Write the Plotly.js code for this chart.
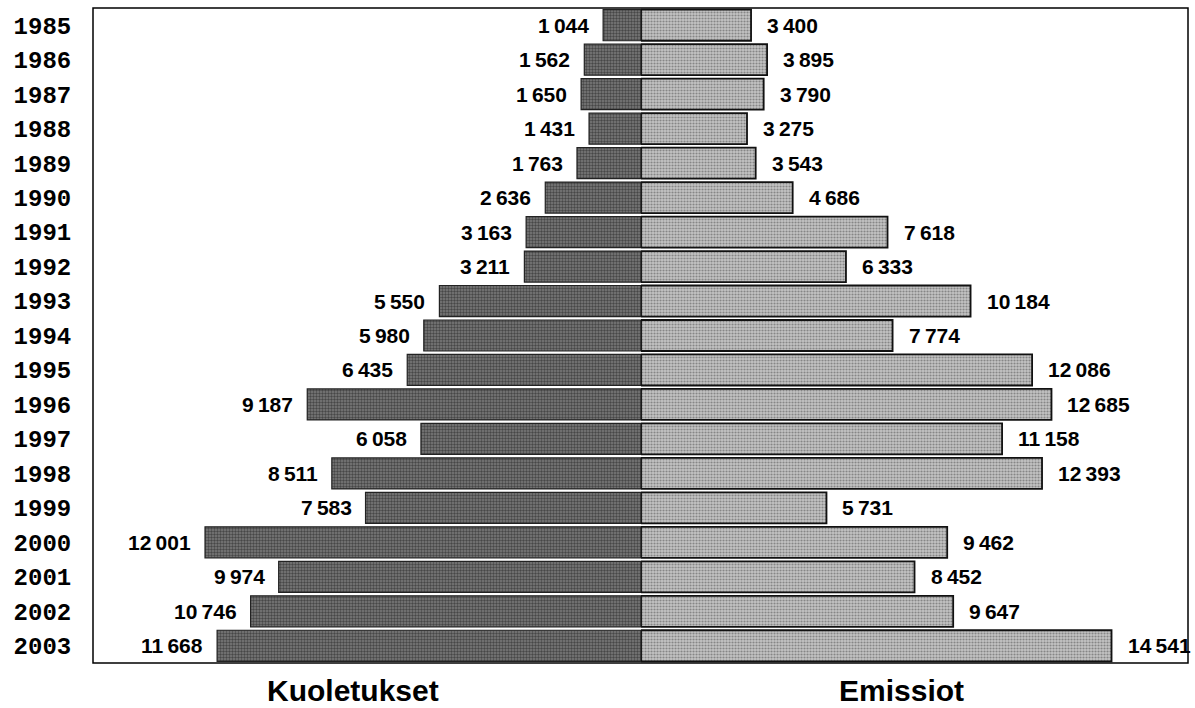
<!DOCTYPE html>
<html>
<head>
<meta charset="utf-8">
<script src="https://cdn.plot.ly/plotly-3.0.1.min.js"></script>
<style>html,body{margin:0;padding:0;background:#fff;}#chart{width:1195px;height:708px;}</style>
</head>
<body>
<div id="chart"></div>
<script>
const years = ['1985','1986','1987','1988','1989','1990','1991','1992','1993','1994','1995','1996','1997','1998','1999','2000','2001','2002','2003'];
const kuoletukset = [1044,1562,1650,1431,1763,2636,3163,3211,5550,5980,6435,9187,6058,8511,7583,12001,9974,10746,11668];
const emissiot = [3400,3895,3790,3275,3543,4686,7618,6333,10184,7774,12086,12685,11158,12393,5731,9462,8452,9647,14541];
const leftTitle = 'Kuoletukset';
const rightTitle = 'Emissiot';

function fmt(v){ return String(v).replace(/\B(?=(\d{3})+(?!\d))/g, '\u2009'); }

const traces = [
  {type:'bar', orientation:'h', y:years, x:kuoletukset, xaxis:'x', yaxis:'y',
   marker:{color:'#5e5e5e', line:{color:'#222', width:1.2},
     pattern:{shape:'.', size:3, solidity:0.5, fgcolor:'#111', bgcolor:'#7c7c7c', fillmode:'overlay'}},
   hoverinfo:'skip'},
  {type:'bar', orientation:'h', y:years, x:emissiot, xaxis:'x2', yaxis:'y',
   marker:{color:'#a8a8a8', line:{color:'#111', width:1.8},
     pattern:{shape:'.', size:3, solidity:0.4, fgcolor:'#444', bgcolor:'#c4c4c4', fillmode:'overlay'}},
   hoverinfo:'skip'}
];

const labelFont = {family:'Liberation Sans, Arial, sans-serif', size:21, color:'#000'};
const ann = [];
years.forEach((yr,i)=>{
  ann.push({x:kuoletukset[i], y:i, xref:'x', yref:'y', text:'<b>'+fmt(kuoletukset[i])+'</b>', showarrow:false,
    xanchor:'right', yanchor:'middle', xshift:-12, font:labelFont});
  ann.push({x:emissiot[i], y:i, xref:'x2', yref:'y', text:'<b>'+fmt(emissiot[i])+'</b>', showarrow:false,
    xanchor:'left', yanchor:'middle', xshift:14, font:labelFont});
});
const titleFont = {family:'Liberation Sans, Arial, sans-serif', size:30, color:'#000'};
ann.push({x:0.2374, y:-0.042, xref:'paper', yref:'paper', text:'<b>'+leftTitle+'</b>', showarrow:false, xanchor:'center', yanchor:'middle', font:titleFont});
ann.push({x:0.7388, y:-0.042, xref:'paper', yref:'paper', text:'<b>'+rightTitle+'</b>', showarrow:false, xanchor:'center', yanchor:'middle', font:titleFont});

const layout = {
  width:1195, height:708,
  margin:{l:93, r:7, t:8, b:45, pad:0},
  paper_bgcolor:'#fff', plot_bgcolor:'#fff',
  showlegend:false,
  bargap:0.1,
  xaxis:{domain:[0,0.5005], range:[15084,0], showgrid:false, zeroline:false, showticklabels:false, showline:false, fixedrange:true},
  xaxis2:{domain:[0.5005,1], range:[0,16904], anchor:'y', showgrid:false, zeroline:false, showticklabels:false, showline:false, fixedrange:true},
  yaxis:{type:'category', categoryorder:'array', categoryarray:years, range:[years.length-0.5,-0.5],
    showgrid:false, zeroline:false, showline:false, ticks:'outside', ticklen:16, tickcolor:'rgba(0,0,0,0)',
    tickfont:{family:'Liberation Mono, Courier New, monospace', size:24, color:'#000', weight:'bold'}},
  shapes:[{type:'rect', xref:'paper', yref:'paper', x0:0, x1:1, y0:0, y1:1, line:{color:'#000', width:1.5}, fillcolor:'rgba(0,0,0,0)', layer:'above'}],
  annotations:ann
};

Plotly.newPlot('chart', traces, layout, {staticPlot:true, displayModeBar:false});
</script>
</body>
</html>
